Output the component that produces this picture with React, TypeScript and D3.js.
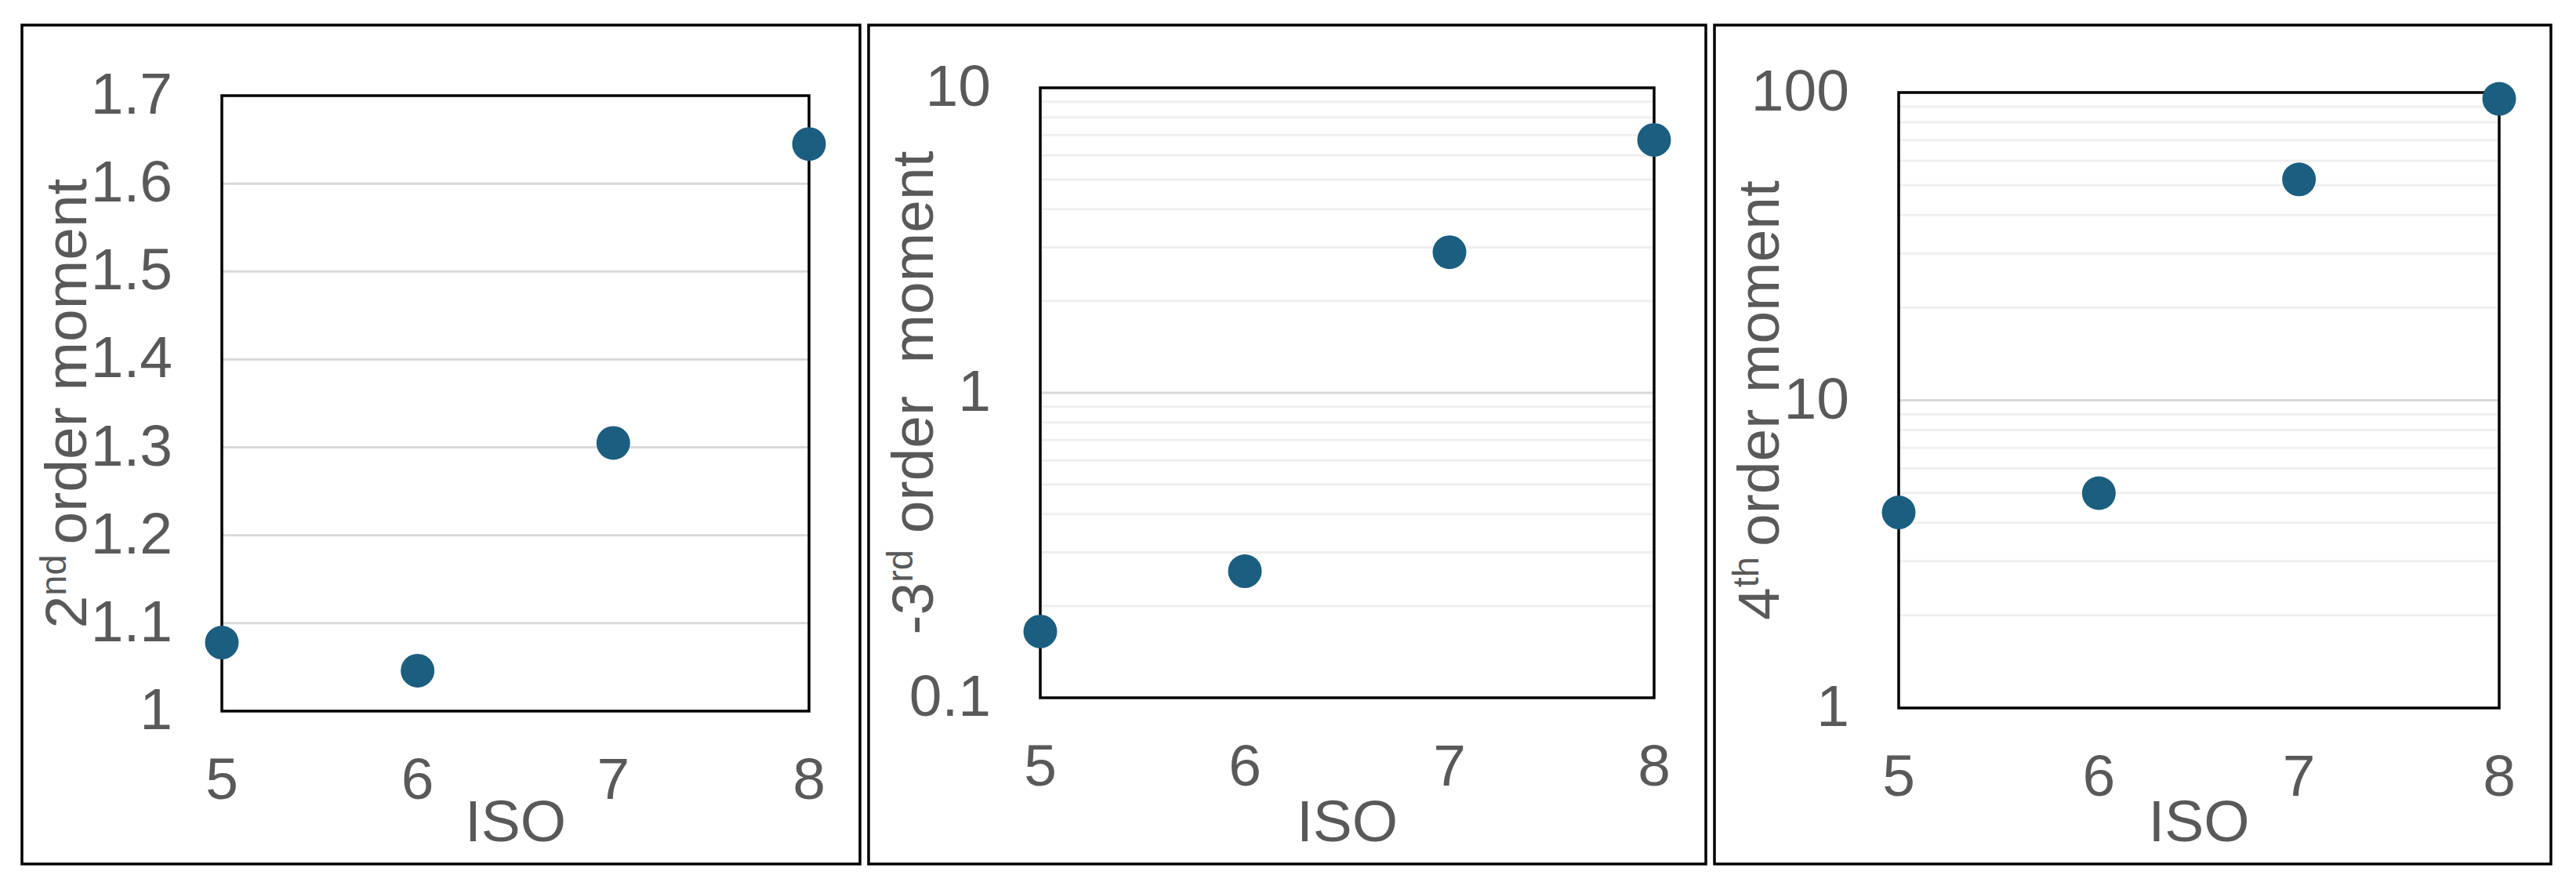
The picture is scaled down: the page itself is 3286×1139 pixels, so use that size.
import React from "react";
import * as d3 from "d3";

// ---- data ----
const isoValues = [5, 6, 7, 8];
const secondMoment = [1.078, 1.046, 1.305, 1.645];
const negThirdMoment = [0.165, 0.26, 2.89, 6.75];
const fourthMoment = [4.32, 4.99, 52.2, 95.4];
const xTicks = [5, 6, 7, 8];
const ticksSecond = [1, 1.1, 1.2, 1.3, 1.4, 1.5, 1.6, 1.7];
const ticksThird = [0.1, 1, 10];
const ticksFourth = [1, 10, 100];
const xLabel = "ISO";

// ---- layout ----
const W = 3286;
const H = 1139;
const FONT = "'Liberation Sans', Arial, sans-serif";
const TEXT = "#595959";
const DOT = "#1c5e80";
const FS = 75;

type Panel = {
  outer: [number, number, number, number];
  plot: [number, number, number, number];
  kind: "linear" | "log";
  domain: [number, number];
  ticks: number[];
  values: number[];
  titleMain: string;
  titleSup: string;
  titleRest: string;
};

const panels: Panel[] = [
  {
    outer: [28, 32, 1097, 1102],
    plot: [283, 122, 1032, 907],
    kind: "linear",
    domain: [1, 1.7],
    ticks: ticksSecond,
    values: secondMoment,
    titleMain: "2",
    titleSup: "nd ",
    titleRest: "order moment",
  },
  {
    outer: [1108, 32, 2176, 1102],
    plot: [1327, 112, 2110, 890],
    kind: "log",
    domain: [0.1, 10],
    ticks: ticksThird,
    values: negThirdMoment,
    titleMain: "-3",
    titleSup: "rd",
    titleRest: " order  moment",
  },
  {
    outer: [2187, 32, 3254, 1102],
    plot: [2422, 118, 3188, 903],
    kind: "log",
    domain: [1, 100],
    ticks: ticksFourth,
    values: fourthMoment,
    titleMain: "4",
    titleSup: "th ",
    titleRest: "order moment",
  },
];

function fmt(v: number) {
  return String(+v.toFixed(2));
}

function PanelView({ p }: { p: Panel }) {
  const [ox0, oy0, ox1, oy1] = p.outer;
  const [px0, py0, px1, py1] = p.plot;
  const x = d3.scaleLinear().domain([5, 8]).range([px0, px1]);
  const y =
    p.kind === "linear"
      ? d3.scaleLinear().domain(p.domain).range([py1, py0])
      : d3.scaleLog().domain(p.domain).range([py1, py0]);

  let grid: { v: number; major: boolean }[] = [];
  if (p.kind === "linear") {
    grid = p.ticks.map((v) => ({ v, major: true }));
  } else {
    const all = (y as d3.ScaleLogarithmic<number, number>).ticks();
    grid = all.map((v) => ({
      v,
      major: p.ticks.some((t) => Math.abs(t - v) / t < 1e-6),
    }));
  }

  const titleX = ox0 + 82;
  const titleY = (py0 + py1) / 2;

  return (
    <g>
      <rect
        x={ox0}
        y={oy0}
        width={ox1 - ox0}
        height={oy1 - oy0}
        fill="#fff"
        stroke="#000"
        strokeWidth={3.5}
      />
      {grid
        .filter((g) => y(g.v) > py0 + 2 && y(g.v) < py1 - 2)
        .map((g, i) => (
          <line
            key={"g" + i}
            x1={px0}
            x2={px1}
            y1={y(g.v)}
            y2={y(g.v)}
            stroke={g.major ? "#d9d9d9" : "#efefef"}
            strokeWidth={3}
          />
        ))}
      <rect
        x={px0}
        y={py0}
        width={px1 - px0}
        height={py1 - py0}
        fill="none"
        stroke="#000"
        strokeWidth={3.5}
      />
      {p.ticks.map((t, i) => (
        <text
          key={"yt" + i}
          x={px0 - 63}
          y={y(t) + 23}
          textAnchor="end"
          fontFamily={FONT}
          fontSize={FS}
          fill={TEXT}
        >
          {fmt(t)}
        </text>
      ))}
      {xTicks.map((t, i) => (
        <text
          key={"xt" + i}
          x={x(t)}
          y={py1 + 112}
          textAnchor="middle"
          fontFamily={FONT}
          fontSize={FS}
          fill={TEXT}
        >
          {t}
        </text>
      ))}
      <text
        x={(px0 + px1) / 2}
        y={1073}
        textAnchor="middle"
        fontFamily={FONT}
        fontSize={FS}
        fill={TEXT}
      >
        {xLabel}
      </text>
      <text
        transform={`translate(${titleX},${titleY}) rotate(-90)`}
        textAnchor="middle"
        fontFamily={FONT}
        fontSize={FS}
        fill={TEXT}
        style={{ whiteSpace: "pre" }}
      >
        <tspan>{p.titleMain}</tspan>
        <tspan fontSize={47} dy={-26}>
          {p.titleSup}
        </tspan>
        <tspan dy={26}>{p.titleRest}</tspan>
      </text>
      {p.values.map((v, i) => (
        <circle key={"c" + i} cx={x(isoValues[i])} cy={y(v)} r={21.5} fill={DOT} />
      ))}
    </g>
  );
}

export default function App() {
  return (
    <svg
      width={W}
      height={H}
      viewBox={`0 0 ${W} ${H}`}
      style={{ position: "absolute", left: 0, top: 0, background: "#fff" }}
    >
      <rect x={0} y={0} width={W} height={H} fill="#fff" />
      {panels.map((p, i) => (
        <PanelView key={i} p={p} />
      ))}
    </svg>
  );
}
